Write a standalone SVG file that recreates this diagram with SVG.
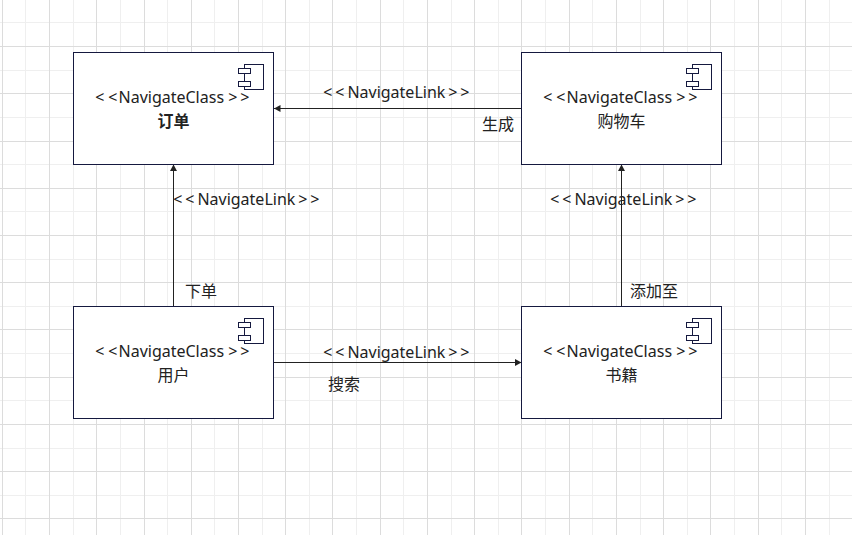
<svg xmlns="http://www.w3.org/2000/svg" width="852" height="535" viewBox="0 0 852 535">
<style>
.minor{stroke:#efefef;stroke-width:1;fill:none}
.major{stroke:#dcdcdc;stroke-width:1;fill:none}
.box{fill:#fff;stroke:#15193f;stroke-width:1}
.icon{fill:#fff;stroke:#15193f;stroke-width:1}
.edge{stroke:#222;stroke-width:1;fill:none;marker-end:url(#arrow)}
text{font-family:"Noto Sans","Noto Sans CJK SC",sans-serif;font-size:16px;fill:#222}
.name{text-anchor:middle}
</style>
<defs>
<marker id="arrow" markerUnits="userSpaceOnUse" markerWidth="8" markerHeight="8" refX="6.5" refY="3.5" orient="auto"><path d="M0 0L6.5 3.5L0 7Z" fill="#222"/></marker>
<g id="icon"><rect class="icon" x="6" y="0" width="19" height="25"/><rect class="icon" x="0" y="4" width="12" height="5"/><rect class="icon" x="0" y="17" width="12" height="5"/></g>
</defs>
<rect width="852" height="535" fill="#fff"/>
<g id="grid">
<path class="minor" d="M25.5 0V535M73.5 0V535M120.5 0V535M167.5 0V535M214.5 0V535M262.5 0V535M309.5 0V535M356.5 0V535M403.5 0V535M451.5 0V535M498.5 0V535M545.5 0V535M592.5 0V535M640.5 0V535M687.5 0V535M734.5 0V535M781.5 0V535M829.5 0V535M0 22.5H852M0 70.5H852M0 117.5H852M0 164.5H852M0 211.5H852M0 259.5H852M0 306.5H852M0 353.5H852M0 400.5H852M0 448.5H852M0 495.5H852"/>
<path class="major" d="M2.5 0V535M49.5 0V535M96.5 0V535M144.5 0V535M191.5 0V535M238.5 0V535M285.5 0V535M332.5 0V535M380.5 0V535M427.5 0V535M474.5 0V535M521.5 0V535M569.5 0V535M616.5 0V535M663.5 0V535M710.5 0V535M758.5 0V535M805.5 0V535M0 46.5H852M0 93.5H852M0 141.5H852M0 188.5H852M0 235.5H852M0 282.5H852M0 329.5H852M0 377.5H852M0 424.5H852M0 471.5H852M0 518.5H852"/>
</g>
<g id="connectors">
<path class="edge" d="M521.5 108.5H274"/>
<path class="edge" d="M173.5 306V164.5"/>
<path class="edge" d="M621.5 306V164.5"/>
<path class="edge" d="M274 362.5H521.5"/>
<text x="323.3 335.3 347.4" y="98">&lt;&lt;NavigateLink<tspan x="448.3 460.3">&gt;&gt;</tspan></text>
<text x="173.3 185.3 197.4" y="205">&lt;&lt;NavigateLink<tspan x="298.3 310.3">&gt;&gt;</tspan></text>
<text x="550.3 562.3 574.4" y="205">&lt;&lt;NavigateLink<tspan x="675.3 687.3">&gt;&gt;</tspan></text>
<text x="323.3 335.3 347.4" y="358">&lt;&lt;NavigateLink<tspan x="448.3 460.3">&gt;&gt;</tspan></text>
<text x="482" y="130">生成</text>
<text x="185" y="297">下单</text>
<text x="630" y="297">添加至</text>
<text x="328" y="390">搜索</text>
</g>
<g id="order"><rect class="box" x="73.5" y="52.5" width="200" height="112"/><use href="#icon" x="238.5" y="64.5"/>
<text x="95.3 108.3 118.5" y="103">&lt;&lt;NavigateClass<tspan x="228.3 240.3">&gt;&gt;</tspan></text><text class="name" x="173.5" y="127" font-weight="bold">订单</text></g>
<g id="cart"><rect class="box" x="521.5" y="52.5" width="200" height="112"/><use href="#icon" x="686.5" y="64.5"/>
<text x="543.3 556.3 566.5" y="103">&lt;&lt;NavigateClass<tspan x="676.3 688.3">&gt;&gt;</tspan></text><text class="name" x="621.5" y="127">购物车</text></g>
<g id="user"><rect class="box" x="73.5" y="306.5" width="200" height="112"/><use href="#icon" x="238.5" y="318.5"/>
<text x="95.3 108.3 118.5" y="357">&lt;&lt;NavigateClass<tspan x="228.3 240.3">&gt;&gt;</tspan></text><text class="name" x="173.5" y="381">用户</text></g>
<g id="book"><rect class="box" x="521.5" y="306.5" width="200" height="112"/><use href="#icon" x="686.5" y="318.5"/>
<text x="543.3 556.3 566.5" y="357">&lt;&lt;NavigateClass<tspan x="676.3 688.3">&gt;&gt;</tspan></text><text class="name" x="621.5" y="381">书籍</text></g>
</svg>
